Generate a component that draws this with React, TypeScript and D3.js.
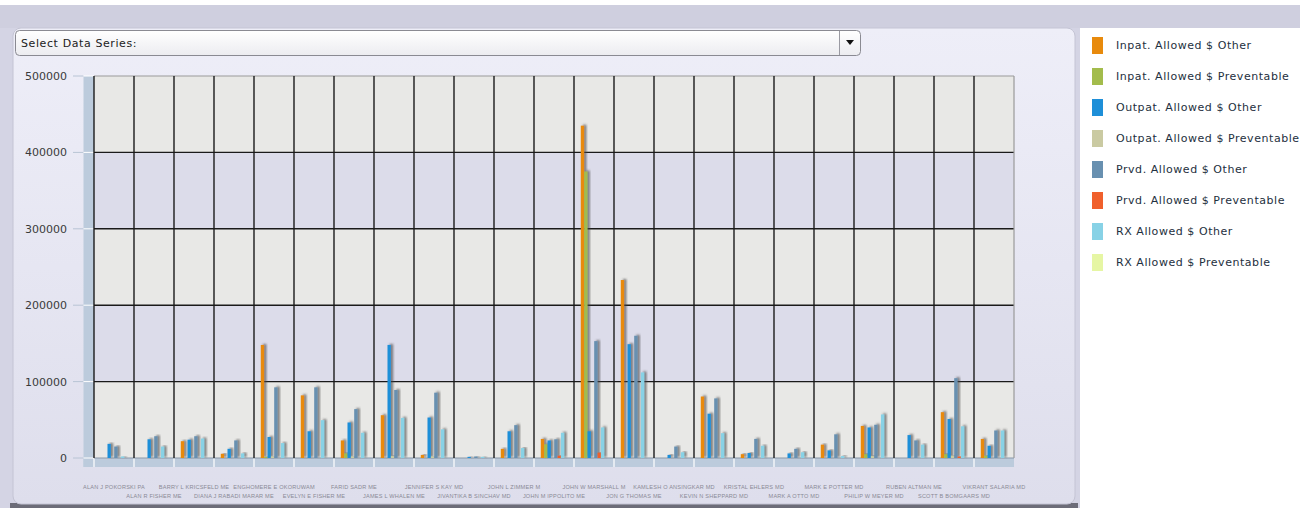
import React from "react";
import * as d3 from "d3";

const categories = [
  "ALAN J POKORSKI PA", "ALAN R FISHER ME", "BARRY L KRICSFELD ME", "DIANA J RABADI MARAR ME",
  "ENGHOMERE E OKORUWAM", "EVELYN E FISHER ME", "FARID SADR ME", "JAMES L WHALEN ME",
  "JENNIFER S KAY MD", "JIVANTIKA B SINCHAV MD", "JOHN L ZIMMER M", "JOHN M IPPOLITO ME",
  "JOHN W MARSHALL M", "JON G THOMAS ME", "KAMLESH O ANSINGKAR MD", "KEVIN N SHEPPARD MD",
  "KRISTAL EHLERS MD", "MARK A OTTO MD", "MARK E POTTER MD", "PHILIP W MEYER MD",
  "RUBEN ALTMAN ME", "SCOTT B BOMGAARS MD", "VIKRANT SALARIA MD",
];

const seriesNames = [
  "Inpat. Allowed $ Other", "Inpat. Allowed $ Preventable",
  "Outpat. Allowed $ Other", "Outpat. Allowed $ Preventable",
  "Prvd. Allowed $ Other", "Prvd. Allowed $ Preventable",
  "RX Allowed $ Other", "RX Allowed $ Preventable",
];

const inpatOther = [0, 0, 22000, 5500, 148000, 82000, 23000, 56000, 4000, 0, 12000, 25000, 435000, 233000, 0, 80500, 5000, 0, 17500, 42000, 0, 60000, 25000];
const inpatPrev = [0, 0, 0, 0, 1500, 0, 6000, 0, 0, 0, 0, 18000, 375000, 0, 0, 0, 0, 0, 0, 5000, 0, 5000, 3000];
const outpatOther = [18500, 24500, 24000, 12000, 27500, 35000, 46500, 148000, 53000, 1500, 35000, 23000, 35000, 149000, 4000, 58000, 6500, 6000, 10000, 40000, 30000, 51000, 16000];
const outpatPrev = [0, 0, 0, 0, 2000, 0, 2000, 2500, 2000, 0, 0, 0, 0, 0, 0, 0, 0, 0, 0, 2500, 0, 3000, 0];
const prvdOther = [15000, 28500, 28500, 23000, 92500, 92500, 64000, 89000, 85500, 2000, 43000, 24500, 153000, 160000, 15000, 78000, 25000, 12000, 31000, 43500, 23000, 104500, 36000];
const prvdPrev = [0, 0, 0, 0, 0, 0, 0, 0, 0, 0, 0, 3000, 7000, 0, 0, 0, 0, 0, 0, 0, 0, 2000, 0];
const rxOther = [2000, 15000, 25500, 6000, 19500, 49500, 33000, 52500, 37500, 1500, 13000, 33000, 40000, 112000, 7500, 32500, 16000, 7500, 2500, 57000, 17500, 41500, 36000];
const rxPrev = [0, 0, 0, 0, 0, 0, 0, 0, 0, 0, 0, 0, 0, 0, 0, 0, 0, 0, 0, 0, 0, 0, 0];

const yTicks = [0, 100000, 200000, 300000, 400000, 500000];

const seriesValues = [inpatOther, inpatPrev, outpatOther, outpatPrev, prvdOther, prvdPrev, rxOther, rxPrev];
const colors = ["#E88A0C", "#A3BC4C", "#1E8FD8", "#CACAA2", "#6890B0", "#F0602C", "#88D2E6", "#E6F6A4"];

const W = 1300, H = 508;
const plotL = 94, plotR = 1014, plotT = 76, plotB = 458;
const FONT = "'DejaVu Sans', Verdana, sans-serif";

export default function App() {
  const x0 = d3.scaleBand<string>().domain(categories).range([plotL, plotR]).padding(0);
  const bw = x0.bandwidth();
  const x1 = d3.scaleBand<number>().domain(d3.range(seriesNames.length)).range([bw * 0.17, bw * 0.84]).padding(0);
  const y = d3.scaleLinear().domain([0, 500000]).range([plotB, plotT]);

  const bands = d3.range(5);

  return (
    <svg width={W} height={H} style={{ position: "absolute", left: 0, top: 0 }} fontFamily={FONT}>
      <defs>
        <linearGradient id="panelGrad" x1="0" y1="0" x2="0" y2="1">
          <stop offset="0" stopColor="#eeeef8" />
          <stop offset="1" stopColor="#dedeec" />
        </linearGradient>
        <linearGradient id="ddGrad" x1="0" y1="0" x2="0" y2="1">
          <stop offset="0" stopColor="#ffffff" />
          <stop offset="1" stopColor="#ececf0" />
        </linearGradient>
        <filter id="barShadow" x="-50%" y="-10%" width="250%" height="120%">
          <feDropShadow dx="2.2" dy="-1" stdDeviation="0.9" floodColor="#444" floodOpacity="0.7" />
        </filter>
      </defs>
      <rect x={0} y={0} width={W} height={H} fill="#ffffff" />
      <rect x={0} y={5} width={W} height={23} fill="#cfcfdf" />
      <rect x={0} y={28} width={1080} height={480} fill="#d4d4e4" />
      <rect x={10} y={503} width={1068} height={5} fill="#6c6c78" />
      <rect x={13} y={28} width={1062} height={476} rx={8} fill="url(#panelGrad)" stroke="#c4c4d4" />

      {/* dropdown */}
      <rect x={15.5} y={30.5} width={845} height={25} rx={4} fill="url(#ddGrad)" stroke="#8a8a92" />
      <line x1={839.5} y1={31} x2={839.5} y2={55} stroke="#9a9aa2" />
      <path d="M846,40 L854,40 L850,45 Z" fill="#111" />
      <text x={21} y={47} fontSize={11} fill="#222" letterSpacing={0.6}>Select Data Series:</text>

      {/* plot background bands */}
      {bands.map(i => (
        <rect key={i} x={plotL} y={y((i + 1) * 100000)} width={plotR - plotL}
          height={y(i * 100000) - y((i + 1) * 100000)} fill={i % 2 === 0 ? "#e8e8e6" : "#dcdcea"} />
      ))}
      {/* left wall */}
      <rect x={83.5} y={plotT} width={plotL - 83.5} height={467 - plotT} fill="#bccbdc" />
      {/* floor */}
      <rect x={83.5} y={plotB} width={plotR - 83.5} height={9} fill="#bccbdc" />
      {yTicks.map(t => (
        <g key={t}>
          <line x1={73} x2={83.5} y1={y(t)} y2={y(t)} stroke="#b8c4d4" strokeWidth={1} />
          <line x1={83.5} x2={plotL} y1={y(t)} y2={y(t)} stroke="#ffffff" strokeWidth={1} />
          <text x={67} y={y(t) + 4} fontSize={11} textAnchor="end" fill="#3a3a3a">{t}</text>
        </g>
      ))}
      {/* floor dividers */}
      {categories.map((c) => (
        <line key={c} x1={x0(c)!} x2={x0(c)!} y1={plotB} y2={467} stroke="#ffffff" strokeWidth={1.2} />
      ))}
      {/* grid */}
      {yTicks.filter(t => t > 0 && t < 500000).map(t => (
        <line key={t} x1={plotL} x2={plotR} y1={y(t)} y2={y(t)} stroke="#1a1a1a" strokeWidth={1.4} />
      ))}
      <line x1={plotL} x2={plotR} y1={plotT} y2={plotT} stroke="#999" strokeWidth={1.2} />
      <line x1={plotL} x2={plotR} y1={plotB} y2={plotB} stroke="#8a98a8" strokeWidth={1} />
      {categories.map(c => (
        <line key={c} x1={x0(c)!} x2={x0(c)!} y1={plotT} y2={plotB} stroke="#1a1a1a" strokeWidth={1.4} />
      ))}
      <line x1={plotR} x2={plotR} y1={plotT} y2={plotB} stroke="#999" strokeWidth={1.2} />

      {/* bars */}
      {categories.map((c, ci) => (
        <g key={c} transform={`translate(${x0(c)},0)`}>
          {seriesValues.map((vals, si) => {
            const v = vals[ci];
            if (!v) return null;
            return (
              <rect key={si} x={x1(si)!} y={y(v)} width={x1.bandwidth()} height={plotB - y(v)}
                fill={colors[si]} filter="url(#barShadow)" />
            );
          })}
        </g>
      ))}

      {/* x labels */}
      {categories.map((c, i) => (
        <text key={c} x={x0(c)! + bw / 2} y={i % 2 === 0 ? 489 : 498} fontSize={5.6} letterSpacing={0.2}
          textAnchor="middle" fill="#8a8a96" fontFamily="'Liberation Sans', Arial, sans-serif">{c}</text>
      ))}

      {/* legend */}
      {seriesNames.map((s, i) => (
        <g key={s} transform={`translate(1092,${37 + i * 31})`}>
          <rect x={0} y={0} width={11} height={17} fill={colors[i]} />
          <text x={24} y={12} fontSize={11} fill="#1e3040" letterSpacing={0.55}>{s}</text>
        </g>
      ))}
    </svg>
  );
}
